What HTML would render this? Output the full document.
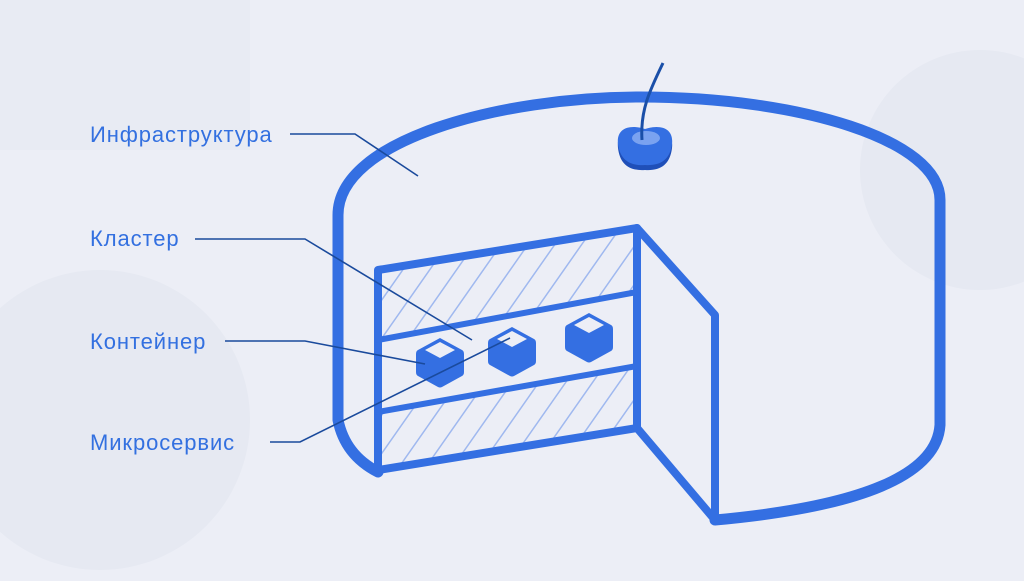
<!DOCTYPE html>
<html><head><meta charset="utf-8"><style>
body{margin:0;width:1024px;height:576px;overflow:hidden;background:#eceef6;}
</style></head><body>
<svg width="1024" height="576" viewBox="0 0 1024 576" xmlns="http://www.w3.org/2000/svg">
<defs>
<pattern id="h" width="22" height="22" patternUnits="userSpaceOnUse" patternTransform="rotate(35)">
<line x1="0" y1="0" x2="0" y2="22" stroke="#9fb8ef" stroke-width="3"/>
</pattern>
<g id="cube">
<path d="M0,-24 L22,-12 Q24,-11 24,-8 L24,10 Q24,13 22,14 L2,25 Q0,26 -2,25 L-22,14 Q-24,13 -24,10 L-24,-8 Q-24,-11 -22,-12 Z" fill="#346fe2"/>
<path d="M0,-20 L15,-12 L0,-4 L-15,-12 Z" fill="#eceef6"/>
</g>
</defs>
<rect width="1024" height="576" fill="#eceef6"/>
<circle cx="100" cy="420" r="150" fill="#e6e9f2"/>
<circle cx="980" cy="170" r="120" fill="#e6e9f2"/>
<rect x="0" y="0" width="250" height="150" fill="#e8ebf3"/>
<path d="M378,270 L637,228 L637,292 L378,340 Z" fill="url(#h)"/>
<path d="M378,412 L637,366 L637,428 L378,470 Z" fill="url(#h)"/>
<g fill="none" stroke="#346fe2" stroke-linejoin="round" stroke-linecap="round">
<path d="M378,472 Q345,455 338,420 L338,215 C338,140 500,97 640,97 C800,97 940,140 940,200 L940,425 Q935,500 715,520" stroke-width="11"/>
<path d="M378,270 L637,228 L637,428 L378,470 Z" stroke-width="8"/>
<path d="M378,340 L637,292 M378,412 L637,366" stroke-width="6"/>
<path d="M637,228 L715,315 L715,520 L637,428" stroke-width="8"/>
</g>
<use href="#cube" x="440" y="362"/>
<use href="#cube" x="512" y="351"/>
<use href="#cube" x="589" y="337"/>
<path d="M618,148 C616,130 630,126 645,131 C660,126 674,130 672,148 C670,165 660,171 645,170 C630,171 620,165 618,148 Z" fill="#1f4fb8"/>
<path d="M618,144 C616,128 630,124 645,129 C660,124 674,128 672,144 C670,160 660,166 645,165 C630,166 620,160 618,144 Z" fill="#346fe2"/>
<ellipse cx="646" cy="138" rx="14" ry="7" fill="#7aa2f0"/>
<path d="M642,140 C640,110 650,90 663,63" stroke="#1a4fa8" stroke-width="3" fill="none"/>
<g stroke="#1a4a9c" stroke-width="1.6" fill="none">
<path d="M290,134 L355,134 L418,176"/>
<path d="M195,239 L305,239 L472,340"/>
<path d="M225,341 L305,341 L425,364"/>
<path d="M270,442 L300,442 L510,338"/>
</g>
<g font-family="Liberation Sans, sans-serif" font-size="22" letter-spacing="0.9" fill="#3370e0">
<text x="90" y="142">Инфраструктура</text>
<text x="90" y="246">Кластер</text>
<text x="90" y="349">Контейнер</text>
<text x="90" y="450">Микросервис</text>
</g>
</svg>
</body></html>
